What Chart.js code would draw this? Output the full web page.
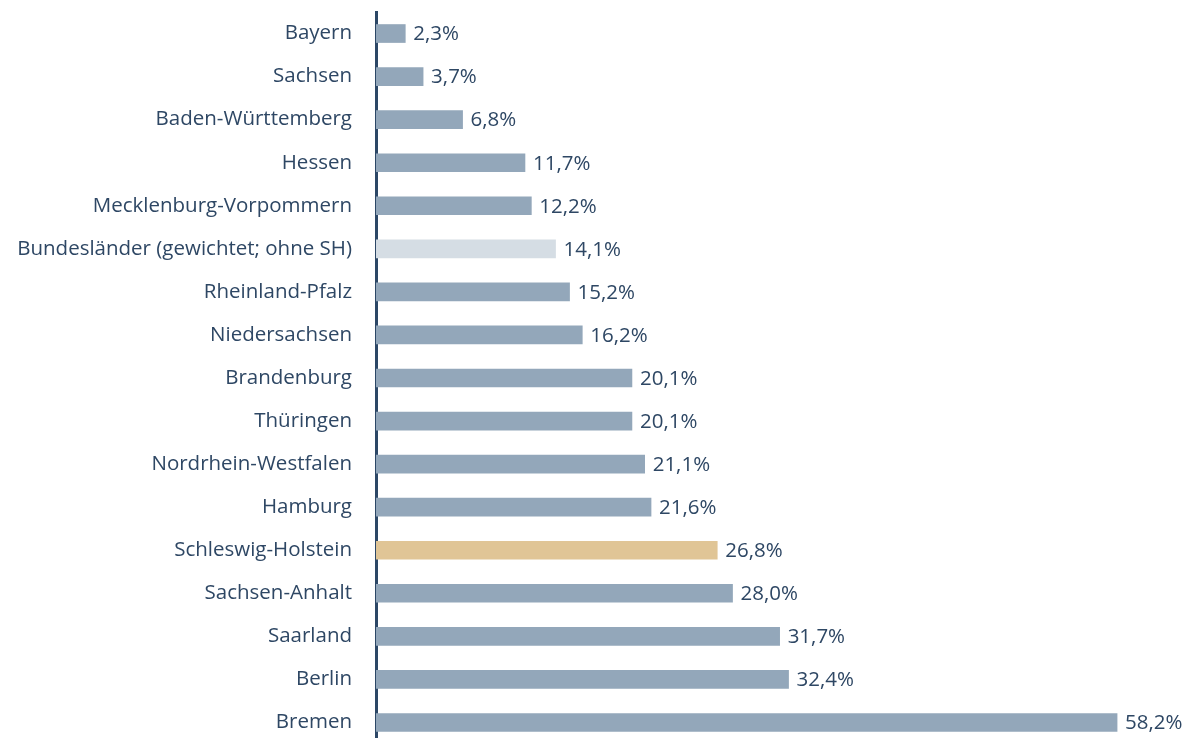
<!DOCTYPE html>
<html>
<head>
<meta charset="utf-8">
<script src="https://cdn.jsdelivr.net/npm/chart.js@4"></script>
<style>
  html, body { margin: 0; padding: 0; background: #fff; overflow: hidden; }
  #wrap { width: 1189px; height: 744px; position: relative; }
</style>
</head>
<body>
<div id="wrap"><canvas id="chart"></canvas></div>
<script>
// categories and values (percent)
var laender = [
  'Bayern', 'Sachsen', 'Baden-Württemberg', 'Hessen', 'Mecklenburg-Vorpommern',
  'Bundesländer (gewichtet; ohne SH)', 'Rheinland-Pfalz', 'Niedersachsen',
  'Brandenburg', 'Thüringen', 'Nordrhein-Westfalen', 'Hamburg',
  'Schleswig-Holstein', 'Sachsen-Anhalt', 'Saarland', 'Berlin', 'Bremen'
];
var anteil = [2.3, 3.7, 6.8, 11.7, 12.2, 14.1, 15.2, 16.2, 20.1, 20.1, 21.1, 21.6, 26.8, 28.0, 31.7, 32.4, 58.2];

var textColor = '#2e4764';
var fontFam = '"Open Sans", Lato, sans-serif';

function barColor(name) {
  if (name === 'Schleswig-Holstein') return '#e0c596';
  if (name.indexOf('Bundesländer') === 0) return '#d5dde4';
  return '#93a7ba';
}

// value labels right of each bar
var valueLabels = {
  id: 'valueLabels',
  afterDatasetsDraw: function(chart) {
    var ctx = chart.ctx;
    var meta = chart.getDatasetMeta(0);
    ctx.save();
    ctx.fillStyle = textColor;
    ctx.font = '20.5px ' + fontFam;
    ctx.textBaseline = 'middle';
    ctx.textAlign = 'left';
    meta.data.forEach(function(bar, i) {
      var txt = anteil[i].toFixed(1).replace('.', ',') + '%';
      ctx.fillText(txt, bar.x + 8, bar.y + 1);
    });
    ctx.restore();
  }
};

var ctx = document.getElementById('chart').getContext('2d');
new Chart(ctx, {
  type: 'bar',
  data: {
    labels: laender,
    datasets: [{
      data: anteil,
      backgroundColor: laender.map(barColor),
      borderWidth: 0,
      barThickness: 18
    }]
  },
  options: {
    indexAxis: 'y',
    responsive: true,
    maintainAspectRatio: false,
    animation: false,
    layout: { padding: { left: 0, right: 49, top: 12, bottom: 0 } },
    plugins: {
      legend: { display: false },
      tooltip: { enabled: false }
    },
    scales: {
      x: {
        display: false,
        min: 0,
        max: 60
      },
      y: {
        grid: { display: false },
        border: { display: true, color: '#2c4766', width: 3 },
        ticks: {
          color: textColor,
          padding: 16,
          font: { family: fontFam, size: 20.5 }
        },
        afterFit: function(scale) {
          scale.width = 376;
          scale.paddingTop = 0;
          scale.paddingBottom = 0;
        }
      }
    }
  },
  plugins: [valueLabels]
});
</script>
</body>
</html>
